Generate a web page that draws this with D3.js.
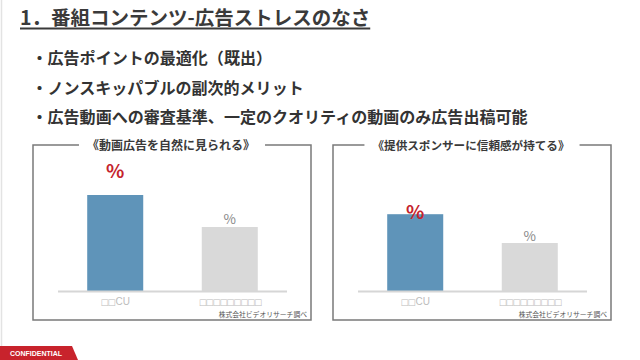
<!DOCTYPE html>
<html><head><meta charset="utf-8">
<script src="https://cdn.jsdelivr.net/npm/d3@7"></script>
<style>
html,body{margin:0;padding:0;background:#fff;}
svg{display:block;}
</style></head>
<body>
<svg id="c" width="640" height="360"></svg>
<script>
// ---- data ----
const pageTitle = "1．番組コンテンツ-広告ストレスのなさ";
const bullets = ["・広告ポイントの最適化（既出）", "・ノンスキッパブルの副次的メリット", "・広告動画への審査基準、一定のクオリティの動画のみ広告出稿可能"];
const categories = ["□□CU", "□□□□□□□□□"];
const panelTitles = ["《動画広告を自然に見られる》", "《提供スポンサーに信頼感が持てる》"];
const panel1Values = [60, 40];
const panel2Values = [48, 30];
const valueLabels = ["%", "%"];
const sourceNote = "株式会社ビデオリサーチ調べ";
const footerLabel = "CONFIDENTIAL";

// ---- style / layout ----
const FONT = "'Noto Sans CJK JP','Noto Sans',sans-serif";
const barColors = ["#5f94b9", "#d9d9d9"];
const labelColors = ["#c5232d", "#8a8a8a"];
const labelSizes = [19, 13.5];
const panels = [
  {x0: 33, x1: 311, values: panel1Values, title: panelTitles[0], titleSize: 12, labelOffsets: [17, 3]},
  {x0: 333, x1: 611, values: panel2Values, title: panelTitles[1], titleSize: 11.6, labelOffsets: [-5, 2]}
];
const boxTop = 145, boxBottom = 320;

const svg = d3.select("#c");

// left edge line
svg.append("line").attr("x1", 1.5).attr("x2", 1.5).attr("y1", 0).attr("y2", 346)
  .attr("stroke", "#e3e3e3").attr("stroke-width", 1.5);

// page title
const t = svg.append("text").attr("x", 20).attr("y", 25)
  .attr("font-family", FONT).attr("font-weight", "bold").attr("font-size", 19.5)
  .attr("fill", "#3a3a3a").text(pageTitle);
const tw = t.node().getComputedTextLength();
svg.append("line").attr("x1", 20).attr("x2", 20 + tw).attr("y1", 28.5).attr("y2", 28.5)
  .attr("stroke", "#3a3a3a").attr("stroke-width", 2);

// bullets
svg.selectAll("text.bullet").data(bullets).join("text").attr("class", "bullet")
  .attr("x", 31.5).attr("y", (d, i) => 64 + i * 29.5)
  .attr("font-family", FONT).attr("font-weight", "bold").attr("font-size", 16.05)
  .attr("fill", "#333").text(d => d);

const y = d3.scaleLinear().domain([0, 100]).range([291, 131]);

panels.forEach(p => {
  const g = svg.append("g");
  const cx = (p.x0 + p.x1) / 2 - 1;
  const title = g.append("text").attr("x", cx).attr("y", 149.5).attr("text-anchor", "middle")
    .attr("font-family", FONT).attr("font-weight", "bold").attr("font-size", p.titleSize)
    .attr("fill", "#3a3a3a").text(p.title);
  const w = title.node().getComputedTextLength();
  const gapL = cx - w / 2 - 8, gapR = cx + w / 2 + 10;
  g.insert("path", "text")
    .attr("d", `M${gapL},${boxTop} H${p.x0} V${boxBottom} H${p.x1} V${boxTop} H${gapR}`)
    .attr("fill", "none").attr("stroke", "#7a7a7a").attr("stroke-width", 1.5);

  const ax0 = p.x0 + 25, ax1 = p.x0 + 254;
  const x = d3.scaleBand().domain(categories).range([ax0, ax1]).paddingInner(0.511).paddingOuter(0.255);

  g.selectAll("rect").data(p.values).join("rect")
    .attr("x", (d, i) => x(categories[i])).attr("width", x.bandwidth())
    .attr("y", d => y(d)).attr("height", d => y(0) - y(d))
    .attr("fill", (d, i) => barColors[i]);

  g.append("line").attr("x1", ax0).attr("x2", ax1).attr("y1", y(0) + 0.5).attr("y2", y(0) + 0.5)
    .attr("stroke", "#d6d6d6").attr("stroke-width", 2);

  g.selectAll("text.val").data(p.values).join("text").attr("class", "val")
    .attr("x", (d, i) => x(categories[i]) + x.bandwidth() / 2)
    .attr("y", (d, i) => y(d) - p.labelOffsets[i])
    .attr("text-anchor", "middle").attr("font-family", FONT)
    .attr("font-weight", (d, i) => i === 0 ? "bold" : "normal")
    .attr("font-size", (d, i) => labelSizes[i])
    .attr("fill", (d, i) => labelColors[i]).text((d, i) => valueLabels[i]);

  const cats = g.selectAll("text.cat").data(categories).join("text").attr("class", "cat")
    .attr("x", d => x(d) + x.bandwidth() / 2).attr("y", 305)
    .attr("text-anchor", "middle").attr("fill", "#bdbdbd");
  cats.each(function(d) {
    const el = d3.select(this);
    const m = d.match(/^(□*)(.*)$/);
    el.append("tspan").attr("font-family", "'DejaVu Sans',sans-serif").attr("font-size", 8.6)
      .attr("letter-spacing", -1.2).text(m[1]);
    if (m[2]) el.append("tspan").attr("dx", 1).attr("font-family", "'Liberation Sans',Arial,sans-serif").attr("font-size", 10).text(m[2]);
  });

  g.append("text").attr("x", p.x1 - 4).attr("y", 317).attr("text-anchor", "end")
    .attr("font-family", FONT).attr("font-size", 6.8).attr("fill", "#555").text(sourceNote);
});

// footer banner
svg.append("path").attr("d", "M0,346 H72 L78,360 H0 Z").attr("fill", "#c8232c");
svg.append("text").attr("x", 10).attr("y", 356).attr("font-family", "'Liberation Sans',Arial,sans-serif")
  .attr("font-weight", "bold").attr("font-size", 7).attr("fill", "#fff").text(footerLabel);
</script>
</body></html>
